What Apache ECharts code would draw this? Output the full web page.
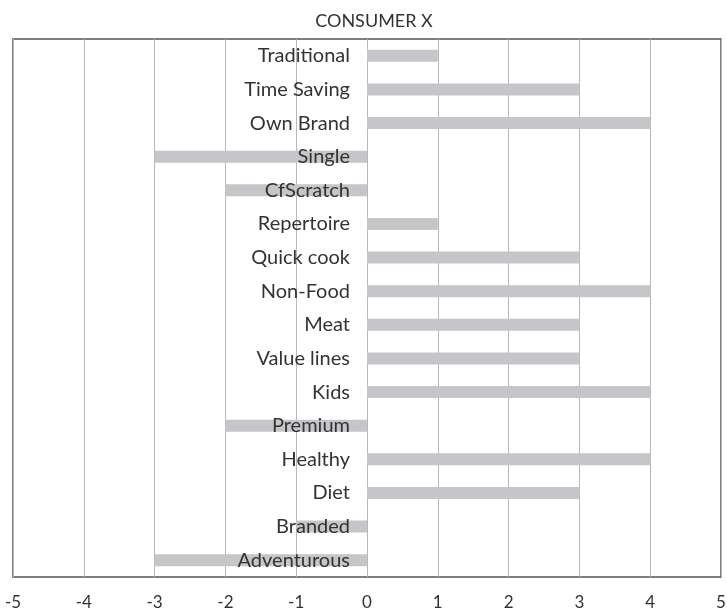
<!DOCTYPE html>
<html>
<head>
<meta charset="utf-8">
<script src="https://cdn.jsdelivr.net/npm/echarts@6/dist/echarts.min.js"></script>
<style>
  html, body { margin: 0; padding: 0; background: #fff; }
  #chart { width: 727px; height: 613px; }
</style>
</head>
<body>
<div id="chart"></div>
<script>
// categories top to bottom
const categories = ['Traditional', 'Time Saving', 'Own Brand', 'Single', 'CfScratch', 'Repertoire',
  'Quick cook', 'Non-Food', 'Meat', 'Value lines', 'Kids', 'Premium', 'Healthy', 'Diet', 'Branded', 'Adventurous'];
const scores = [1, 3, 4, -3, -2, 1, 3, 4, 3, 3, 4, -2, 4, 3, -1, -3];

const font = 'Lato, "Open Sans", sans-serif';
const chart = echarts.init(document.getElementById('chart'));

chart.setOption({
  animation: false,
  title: {
    text: 'CONSUMER X',
    left: 369, top: 7, textAlign: 'center',
    textStyle: { fontFamily: font, fontSize: 18, fontWeight: 'normal', color: '#333' }
  },
  grid: {
    left: 13, right: 6, top: 39, bottom: 36,
    containLabel: false, outerBoundsMode: 'none',
    show: true, borderColor: '#555', borderWidth: 1.5, backgroundColor: '#fff'
  },
  xAxis: {
    type: 'value', min: -5, max: 5, interval: 1,
    axisLine: { show: false }, axisTick: { show: false },
    axisLabel: { margin: 17, fontFamily: font, fontSize: 17, color: '#333' },
    splitLine: { show: true, lineStyle: { color: '#b8b8b8', width: 1 } }
  },
  yAxis: {
    type: 'category', data: categories, inverse: true, z: 5,
    position: 'left', offset: -354, // shift labels over to x = 0
    axisLine: { show: false, onZero: false },
    axisTick: { show: false },
    axisLabel: { margin: 17, fontFamily: font, fontSize: 20, color: '#333', hideOverlap: false },
    splitLine: { show: false }
  },
  series: [{
    type: 'bar', data: scores, barWidth: 12,
    itemStyle: { color: '#c6c6ca' }
  }]
});
</script>
</body>
</html>
